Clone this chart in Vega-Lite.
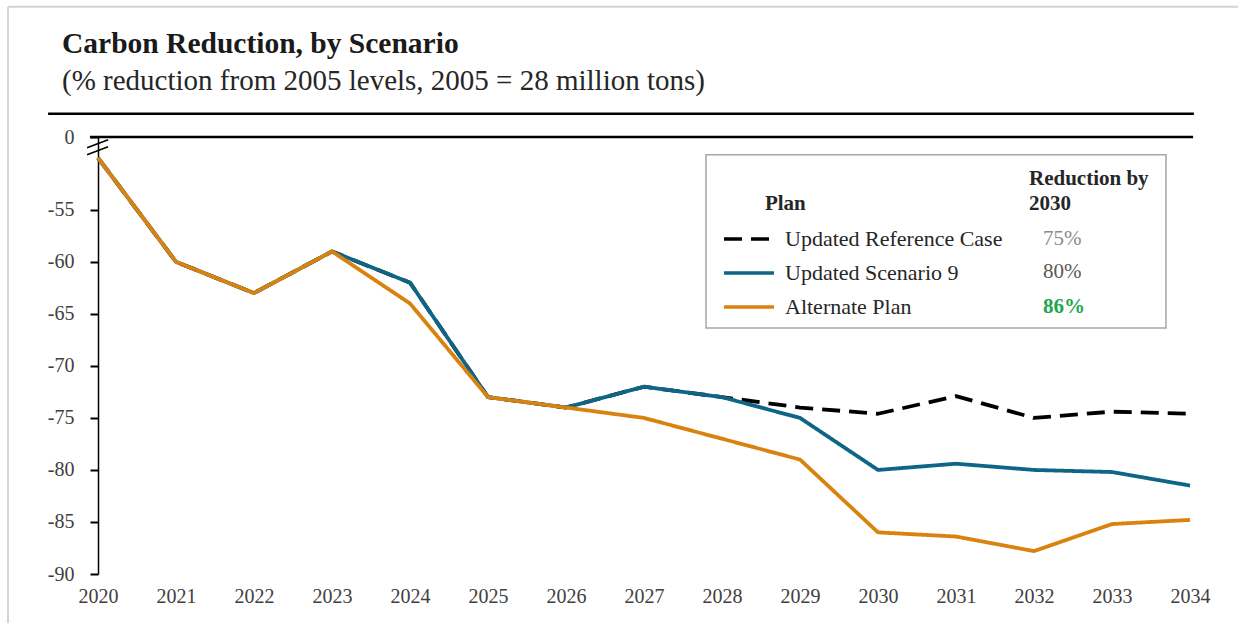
{
  "$schema": "https://vega.github.io/schema/vega-lite/v6.json",
  "width": 1092,
  "height": 437,
  "autosize": {"type": "none"},
  "padding": {"left": 98, "top": 137, "right": 48, "bottom": 49},
  "background": "white",
  "title": {
    "text": "Carbon Reduction, by Scenario",
    "subtitle": "(% reduction from 2005 levels, 2005 = 28 million tons)",
    "anchor": "start",
    "frame": "group",
    "dx": -36,
    "offset": -91,
    "font": "Liberation Serif",
    "fontSize": 29.5,
    "fontWeight": "bold",
    "color": "#1a1a1a",
    "subtitleFont": "Liberation Serif",
    "subtitleFontSize": 29,
    "subtitleColor": "#262626",
    "subtitlePadding": 7
  },
  "config": {
    "view": {"stroke": null},
    "axis": {
      "labelFont": "Liberation Serif",
      "labelFontSize": 20,
      "labelColor": "#404040",
      "title": null,
      "grid": false
    },
    "text": {"font": "Liberation Serif"}
  },
  "datasets": {
    "emissions": [
      {"year": 2020, "plan": "Updated Reference Case", "value": -50},
      {"year": 2021, "plan": "Updated Reference Case", "value": -60},
      {"year": 2022, "plan": "Updated Reference Case", "value": -63},
      {"year": 2023, "plan": "Updated Reference Case", "value": -59},
      {"year": 2024, "plan": "Updated Reference Case", "value": -62},
      {"year": 2025, "plan": "Updated Reference Case", "value": -73},
      {"year": 2026, "plan": "Updated Reference Case", "value": -74},
      {"year": 2027, "plan": "Updated Reference Case", "value": -72},
      {"year": 2028, "plan": "Updated Reference Case", "value": -73},
      {"year": 2029, "plan": "Updated Reference Case", "value": -74},
      {"year": 2030, "plan": "Updated Reference Case", "value": -74.6},
      {"year": 2031, "plan": "Updated Reference Case", "value": -72.9},
      {"year": 2032, "plan": "Updated Reference Case", "value": -75},
      {"year": 2033, "plan": "Updated Reference Case", "value": -74.4},
      {"year": 2034, "plan": "Updated Reference Case", "value": -74.6},
      {"year": 2020, "plan": "Updated Scenario 9", "value": -50},
      {"year": 2021, "plan": "Updated Scenario 9", "value": -60},
      {"year": 2022, "plan": "Updated Scenario 9", "value": -63},
      {"year": 2023, "plan": "Updated Scenario 9", "value": -59},
      {"year": 2024, "plan": "Updated Scenario 9", "value": -62},
      {"year": 2025, "plan": "Updated Scenario 9", "value": -73},
      {"year": 2026, "plan": "Updated Scenario 9", "value": -74},
      {"year": 2027, "plan": "Updated Scenario 9", "value": -72},
      {"year": 2028, "plan": "Updated Scenario 9", "value": -73},
      {"year": 2029, "plan": "Updated Scenario 9", "value": -75},
      {"year": 2030, "plan": "Updated Scenario 9", "value": -80},
      {"year": 2031, "plan": "Updated Scenario 9", "value": -79.4},
      {"year": 2032, "plan": "Updated Scenario 9", "value": -80},
      {"year": 2033, "plan": "Updated Scenario 9", "value": -80.2},
      {"year": 2034, "plan": "Updated Scenario 9", "value": -81.5},
      {"year": 2020, "plan": "Alternate Plan", "value": -50},
      {"year": 2021, "plan": "Alternate Plan", "value": -60},
      {"year": 2022, "plan": "Alternate Plan", "value": -63},
      {"year": 2023, "plan": "Alternate Plan", "value": -59},
      {"year": 2024, "plan": "Alternate Plan", "value": -64},
      {"year": 2025, "plan": "Alternate Plan", "value": -73},
      {"year": 2026, "plan": "Alternate Plan", "value": -74},
      {"year": 2027, "plan": "Alternate Plan", "value": -75},
      {"year": 2028, "plan": "Alternate Plan", "value": -77},
      {"year": 2029, "plan": "Alternate Plan", "value": -79},
      {"year": 2030, "plan": "Alternate Plan", "value": -86},
      {"year": 2031, "plan": "Alternate Plan", "value": -86.4},
      {"year": 2032, "plan": "Alternate Plan", "value": -87.8},
      {"year": 2033, "plan": "Alternate Plan", "value": -85.2},
      {"year": 2034, "plan": "Alternate Plan", "value": -84.8}
    ],
    "reduction2030": [
      {"plan": "Updated Reference Case", "pct": "75%"},
      {"plan": "Updated Scenario 9", "pct": "80%"},
      {"plan": "Alternate Plan", "pct": "86%"}
    ],
    "single": [{}]
  },
  "data": {"name": "emissions"},
  "layer": [
    {
      "data": {"name": "single"},
      "mark": {"type": "rule", "color": "#d4d4d4", "strokeWidth": 2},
      "encoding": {
        "x": {"datum": 2018.846},
        "x2": {"datum": 2034.62},
        "y": {"datum": -35.48}
      }
    },
    {
      "data": {"name": "single"},
      "mark": {"type": "rule", "color": "#d4d4d4", "strokeWidth": 2},
      "encoding": {
        "x": {"datum": 2018.846},
        "y": {"datum": -35.48},
        "y2": {"datum": -94.7}
      }
    },
    {
      "data": {"name": "single"},
      "mark": {"type": "rule", "color": "#000000", "strokeWidth": 2.5},
      "encoding": {
        "x": {"datum": 2019.36},
        "x2": {"datum": 2034.05},
        "y": {"datum": -45.77}
      }
    },
    {
      "data": {"name": "single"},
      "mark": {"type": "rule", "color": "#000000", "strokeWidth": 2.5},
      "encoding": {
        "x": {"datum": 2019.897},
        "x2": {"datum": 2034.04},
        "y": {"datum": -48}
      }
    },
    {
      "mark": {
        "type": "line",
        "strokeWidth": 3.8,
        "strokeCap": "butt",
        "strokeJoin": "round"
      },
      "encoding": {
        "x": {
          "field": "year",
          "type": "quantitative",
          "scale": {"domain": [2020, 2034], "nice": false, "zero": false},
          "axis": {
            "values": [2020, 2021, 2022, 2023, 2024, 2025, 2026, 2027, 2028, 2029, 2030, 2031, 2032, 2033, 2034],
            "format": "d",
            "domain": false,
            "ticks": false,
            "labelPadding": 12,
            "labelFlush": false,
            "labelOverlap": false
          }
        },
        "y": {
          "field": "value",
          "type": "quantitative",
          "scale": {"domain": [-90, -48], "nice": false, "zero": false},
          "axis": {
            "values": [-90, -85, -80, -75, -70, -65, -60, -55, -48],
            "labelExpr": "datum.value == -48 ? '0' : '-' + abs(datum.value)",
            "domainColor": "#000000",
            "domainWidth": 1.5,
            "tickColor": "#000000",
            "tickWidth": 2,
            "tickSize": 8,
            "labelPadding": 16,
            "labelFlush": false,
            "labelOverlap": false
          }
        },
        "color": {
          "field": "plan",
          "type": "nominal",
          "scale": {
            "domain": ["Updated Reference Case", "Updated Scenario 9", "Alternate Plan"],
            "range": ["#000000", "#0f6586", "#d9820f"]
          },
          "legend": {
            "orient": "none",
            "legendX": 640,
            "legendY": 91,
            "title": null,
            "symbolType": "M-5,0H5",
            "symbolSize": 100,
            "symbolStrokeWidth": 3.5,
            "labelFont": "Liberation Serif",
            "labelFontSize": 22,
            "labelColor": "#262626",
            "labelOffset": 25,
            "labelLimit": 400,
            "rowPadding": 12
          }
        },
        "strokeDash": {
          "field": "plan",
          "type": "nominal",
          "scale": {
            "domain": ["Updated Reference Case", "Updated Scenario 9", "Alternate Plan"],
            "range": [[18, 9], [1, 0], [1, 0]]
          },
          "legend": {
            "orient": "none",
            "legendX": 640,
            "legendY": 91,
            "title": null,
            "symbolType": "M-5,0H5",
            "symbolSize": 100,
            "symbolStrokeWidth": 3.5,
            "labelFont": "Liberation Serif",
            "labelFontSize": 22,
            "labelColor": "#262626",
            "labelOffset": 25,
            "labelLimit": 400,
            "rowPadding": 12
          }
        }
      }
    },
    {
      "data": {"name": "single"},
      "mark": {"type": "rule", "color": "#000000", "strokeWidth": 1.5},
      "encoding": {
        "x": {"datum": 2019.86},
        "x2": {"datum": 2020.13},
        "y": {"datum": -49.04},
        "y2": {"datum": -48.27}
      }
    },
    {
      "data": {"name": "single"},
      "mark": {"type": "rule", "color": "#000000", "strokeWidth": 1.5},
      "encoding": {
        "x": {"datum": 2019.86},
        "x2": {"datum": 2020.13},
        "y": {"datum": -49.71},
        "y2": {"datum": -48.94}
      }
    },
    {
      "data": {"name": "single"},
      "mark": {"type": "rect", "fill": "white", "fillOpacity": 0, "stroke": "#a6a6a6", "strokeWidth": 1.5},
      "encoding": {
        "x": {"datum": 2027.795},
        "x2": {"datum": 2033.692},
        "y": {"datum": -49.71},
        "y2": {"datum": -66.35}
      }
    },
    {
      "data": {"name": "single"},
      "mark": {"type": "text", "align": "left", "baseline": "middle", "fontSize": 21, "fontWeight": "bold", "color": "#262626"},
      "encoding": {
        "x": {"datum": 2028.55},
        "y": {"datum": -54.42},
        "text": {"value": "Plan"}
      }
    },
    {
      "data": {"name": "single"},
      "mark": {"type": "text", "align": "left", "baseline": "middle", "fontSize": 21, "fontWeight": "bold", "color": "#262626", "lineHeight": 25},
      "encoding": {
        "x": {"datum": 2031.936},
        "y": {"datum": -52.02},
        "text": {"value": ["Reduction by", "2030"]}
      }
    },
    {
      "data": {"name": "reduction2030"},
      "transform": [{"filter": "datum.plan == 'Updated Reference Case'"}],
      "mark": {"type": "text", "align": "left", "baseline": "middle", "fontSize": 21, "color": "#8c8c8c"},
      "encoding": {
        "x": {"datum": 2032.115},
        "y": {"datum": -57.79},
        "text": {"field": "pct"}
      }
    },
    {
      "data": {"name": "reduction2030"},
      "transform": [{"filter": "datum.plan == 'Updated Scenario 9'"}],
      "mark": {"type": "text", "align": "left", "baseline": "middle", "fontSize": 21, "color": "#5a5a5a"},
      "encoding": {
        "x": {"datum": 2032.115},
        "y": {"datum": -60.96},
        "text": {"field": "pct"}
      }
    },
    {
      "data": {"name": "reduction2030"},
      "transform": [{"filter": "datum.plan == 'Alternate Plan'"}],
      "mark": {"type": "text", "align": "left", "baseline": "middle", "fontSize": 21, "fontWeight": "bold", "color": "#1fa64a"},
      "encoding": {
        "x": {"datum": 2032.115},
        "y": {"datum": -64.33},
        "text": {"field": "pct"}
      }
    }
  ]
}
